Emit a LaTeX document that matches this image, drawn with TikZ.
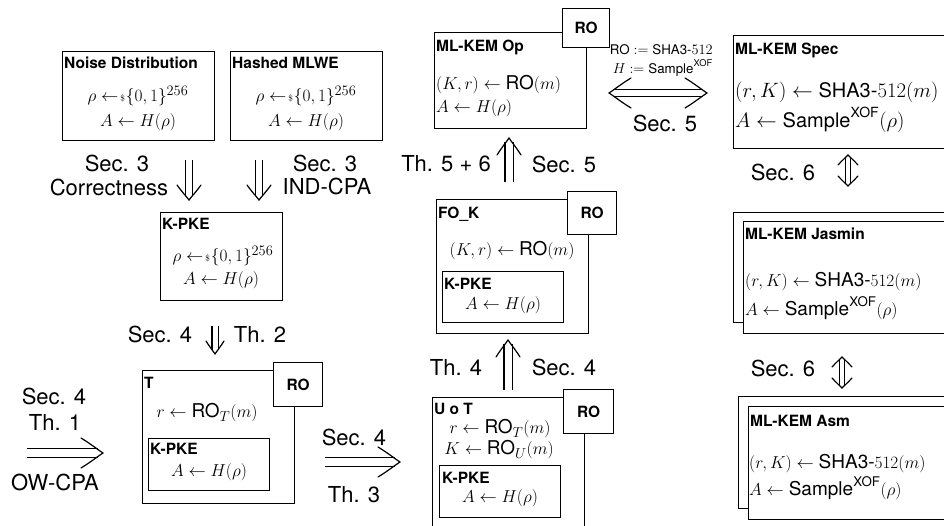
\documentclass[tikz,border=0pt]{standalone}
\usepackage{amsmath}
\usepackage{fontspec}
\setsansfont{TeX Gyre Heros}
\newcommand{\smp}{\mathrel{\leftarrow\mkern-3mu{\scriptscriptstyle\$}\mkern-4mu}}
\tikzset{
  box/.style={draw, line width=1.3pt, fill=white, inner sep=0pt, anchor=north west},
  ttl/.style={font=\sffamily\bfseries\fontsize{15.5}{18}\selectfont, anchor=north west, inner sep=0pt},
  rolbl/.style={font=\sffamily\bfseries\fontsize{15.5}{18}\selectfont, inner sep=0pt},
  mth/.style={font=\fontsize{19}{23}\selectfont, inner sep=0pt},
  mthl/.style={mth, anchor=west},
  mthb/.style={font=\fontsize{20}{24}\selectfont, inner sep=0pt, anchor=west},
  lbl/.style={font=\sffamily\fontsize{22}{26}\selectfont, inner sep=0pt},
  small/.style={font=\fontsize{13.3}{19}\selectfont, inner sep=0pt, align=right},
  shaft/.style={double, double distance=#1, line width=1.2pt},
  pics/dhead/.style 2 args={code={
    \draw[line width=1.2pt, line cap=round]
      (-#1,#2) .. controls (-0.5*#1,0.55*#2) and (-0.2*#1,0.18*#2) .. (0pt,0pt)
      .. controls (-0.2*#1,-0.18*#2) and (-0.5*#1,-0.55*#2) .. (-#1,-#2);
  }}
}
\begin{document}
\begin{tikzpicture}[x=1pt,y=-1pt]
\useasboundingbox (0,0) rectangle (944,526);
\clip (0,0) rectangle (944,526);

% ---------- Noise Distribution ----------
\node[box, minimum width=152pt, minimum height=89pt] (nd) at (62,51) {};
\node[ttl] (ndt) at (64,57) {Noise Distribution};
\node[mth] (nd1) at (138,96) {$\rho \smp \{0,1\}^{256}$};
\node[mth] (nd2) at (138,122) {$A \leftarrow H(\rho)$};

% ---------- Hashed MLWE ----------
\node[box, minimum width=152pt, minimum height=89pt] (hm) at (230,51) {};
\node[ttl] (hmt) at (232,57) {Hashed MLWE};
\node[mth] (hm1) at (306,96) {$\rho \smp \{0,1\}^{256}$};
\node[mth] (hm2) at (306,122) {$A \leftarrow H(\rho)$};

% ---------- K-PKE ----------
\node[box, minimum width=122pt, minimum height=88pt] (kp) at (160,212) {};
\node[ttl] (kpt) at (162,218) {K-PKE};
\node[mth] (kp1) at (223,256) {$\rho \smp \{0,1\}^{256}$};
\node[mth] (kp2) at (221,280) {$A \leftarrow H(\rho)$};

% arrows Sec. 3
\coordinate (a1s) at (189,160); \coordinate (a1e) at (189,200);
\draw[shaft=6.5pt, shorten >=4pt] (a1s) -- (a1e);
\pic[rotate=-90] at (a1e) {dhead={15pt}{12pt}};
\coordinate (a2s) at (259,160); \coordinate (a2e) at (259,200);
\draw[shaft=6.5pt, shorten >=4pt] (a2s) -- (a2e);
\pic[rotate=-90] at (a2e) {dhead={15pt}{12pt}};
\node[lbl] (l1) at (117,163) {Sec. 3};
\node[lbl] (l2) at (109,187) {Correctness};
\node[lbl] (l3) at (325,163) {Sec. 3};
\node[lbl] (l4) at (327,186) {IND-CPA};

% arrow Sec. 4 / Th. 2
\coordinate (a3s) at (215,326); \coordinate (a3e) at (215,354);
\draw[shaft=5pt, shorten >=4pt] (a3s) -- (a3e);
\pic[rotate=-90] at (a3e) {dhead={13pt}{9pt}};
\node[lbl] (l5) at (160,334) {Sec. 4};
\node[lbl] (l6) at (260,334) {Th. 2};

% ---------- T ----------
\node[box, minimum width=152pt, minimum height=133pt] (tb) at (142,370) {};
\node[box, minimum width=49pt, minimum height=44pt] (tro) at (273,362) {};
\node[rolbl] (trol) at (tro.center) {RO};
\node[ttl] (tt) at (144,377) {T};
\node[mth] (t1) at (207,413) {$r \leftarrow \textsf{RO}_T(m)$};
\node[box, minimum width=121pt, minimum height=52pt] (tk) at (148,438) {};
\node[ttl] (tkt) at (150,443) {K-PKE};
\node[mth] (tk1) at (209,472) {$A \leftarrow H(\rho)$};

% left arrow
\coordinate (a4s) at (27,453); \coordinate (a4e) at (103,453);
\draw[shaft=8.5pt, shorten >=5pt] (a4s) -- (a4e);
\pic at (a4e) {dhead={22pt}{15pt}};
\node[lbl] (l7) at (54,396) {Sec. 4};
\node[lbl] (l8) at (55,422) {Th. 1};
\node[lbl] (l9) at (55,482) {OW-CPA};

% right arrow Sec.4 / Th.3
\coordinate (a5s) at (325,462); \coordinate (a5e) at (400,462);
\draw[shaft=8.5pt, shorten >=5pt] (a5s) -- (a5e);
\pic at (a5e) {dhead={22pt}{15pt}};
\node[lbl] (l10) at (354,437) {Sec. 4};
\node[lbl] (l11) at (354,495) {Th. 3};

% ---------- U o T ----------
\node[box, minimum width=152pt, minimum height=170pt] (ut) at (432,397) {};
\node[box, minimum width=50pt, minimum height=44pt] (utro) at (563,389) {};
\node[rolbl] (utrol) at (utro.center) {RO};
\node[ttl] (utt) at (434,403) {U o T};
\node[mth] (ut1) at (500,429) {$r \leftarrow \textsf{RO}_T(m)$};
\node[mth] (ut2) at (499,450) {$K \leftarrow \textsf{RO}_U(m)$};
\node[box, minimum width=121pt, minimum height=52pt] (utk) at (439,465) {};
\node[ttl] (utkt) at (442,472) {K-PKE};
\node[mth] (utk1) at (500,498) {$A \leftarrow H(\rho)$};

% arrow Th. 4 / Sec. 4
\coordinate (a6s) at (508,390); \coordinate (a6e) at (508,340);
\draw[shaft=7pt, shorten >=4pt] (a6s) -- (a6e);
\pic[rotate=90] at (a6e) {dhead={17pt}{12pt}};
\node[lbl] (l12) at (456,367) {Th. 4};
\node[lbl] (l13) at (564,367) {Sec. 4};

% ---------- FO_K ----------
\node[box, minimum width=152pt, minimum height=134pt] (fo) at (436,199) {};
\node[box, minimum width=49pt, minimum height=43pt] (foro) at (567,191) {};
\node[rolbl] (forol) at (foro.center) {RO};
\node[ttl] (fot) at (438,207) {FO\_K};
\node[mth] (fo1) at (512,251) {$(K,r) \leftarrow \textsf{RO}(m)$};
\node[box, minimum width=121pt, minimum height=51pt] (fok) at (442,271) {};
\node[ttl] (fokt) at (444,278) {K-PKE};
\node[mth] (fok1) at (503,305) {$A \leftarrow H(\rho)$};

% arrow Th. 5 + 6 / Sec. 5
\coordinate (a7s) at (509,182); \coordinate (a7e) at (509,138);
\draw[shaft=7pt, shorten >=4pt] (a7s) -- (a7e);
\pic[rotate=90] at (a7e) {dhead={17pt}{12pt}};
\node[lbl] (l14) at (446,164) {Th. 5 + 6};
\node[lbl] (l15) at (564,164) {Sec. 5};

% ---------- ML-KEM Op ----------
\node[box, minimum width=152pt, minimum height=96pt] (op) at (434,32) {};
\node[box, minimum width=47pt, minimum height=39pt] (opro) at (562,8) {};
\node[rolbl] (oprol) at (opro.center) {RO};
\node[ttl] (opt) at (436,40) {ML-KEM Op};
\node[mthl] (op1) at (436,85) {$(K,r) \leftarrow \textsf{RO}(m)$};
\node[mthl] (op2) at (436,108) {$A \leftarrow H(\rho)$};

% double-headed horizontal arrow
\coordinate (a8s) at (609,93); \coordinate (a8e) at (707,93);
\draw[shaft=6pt, shorten >=5pt, shorten <=5pt] (a8s) -- (a8e);
\pic at (a8e) {dhead={22pt}{15pt}};
\pic[rotate=180] at (a8s) {dhead={22pt}{15pt}};
\node[small, anchor=east] (sm) at (713,60) {$\textsf{RO} := \textsf{SHA3-}512$\\$H := \textsf{Sample}^{\textsf{XOF}}$};
\node[lbl] (l16) at (665,123) {Sec. 5};

% ---------- ML-KEM Spec ----------
\node[box, minimum width=240pt, minimum height=113pt] (sp) at (733,35) {};
\node[ttl] (spt) at (735,43) {ML-KEM Spec};
\node[mthb] (sp1) at (735,92) {$(r,K) \leftarrow \textsf{SHA3-}512(m)$};
\node[mthb] (sp2) at (735,120) {$A \leftarrow \textsf{Sample}^{\textsf{XOF}}(\rho)$};

% Sec. 6 arrow 1
\coordinate (a9s) at (848,155); \coordinate (a9e) at (848,186);
\draw[shaft=4pt, shorten >=3pt, shorten <=3pt] (a9s) -- (a9e);
\pic[rotate=-90] at (a9e) {dhead={10pt}{10pt}};
\pic[rotate=90] at (a9s) {dhead={10pt}{10pt}};
\node[lbl] (l17) at (783,172) {Sec. 6};

% ---------- ML-KEM Jasmin ----------
\node[box, minimum width=240pt, minimum height=110pt] (jsb) at (733,212) {};
\node[box, minimum width=240pt, minimum height=112pt] (js) at (743,221) {};
\node[ttl] (jst) at (745,228) {ML-KEM Jasmin};
\node[mthl] (js1) at (745,282) {$(r,K) \leftarrow \textsf{SHA3-}512(m)$};
\node[mthl] (js2) at (745,308) {$A \leftarrow \textsf{Sample}^{\textsf{XOF}}(\rho)$};

% Sec. 6 arrow 2
\coordinate (a10s) at (842,357); \coordinate (a10e) at (842,388);
\draw[shaft=4pt, shorten >=3pt, shorten <=3pt] (a10s) -- (a10e);
\pic[rotate=-90] at (a10e) {dhead={10pt}{10pt}};
\pic[rotate=90] at (a10s) {dhead={10pt}{10pt}};
\node[lbl] (l18) at (783,368) {Sec. 6};

% ---------- ML-KEM Asm ----------
\node[box, minimum width=240pt, minimum height=112pt] (asb) at (738,396) {};
\node[box, minimum width=240pt, minimum height=113pt] (as) at (748,406) {};
\node[ttl] (ast) at (750,415) {ML-KEM Asm};
\node[mthl] (as1) at (749,464) {$(r,K) \leftarrow \textsf{SHA3-}512(m)$};
\node[mthl] (as2) at (749,488) {$A \leftarrow \textsf{Sample}^{\textsf{XOF}}(\rho)$};
\end{tikzpicture}
\end{document}
